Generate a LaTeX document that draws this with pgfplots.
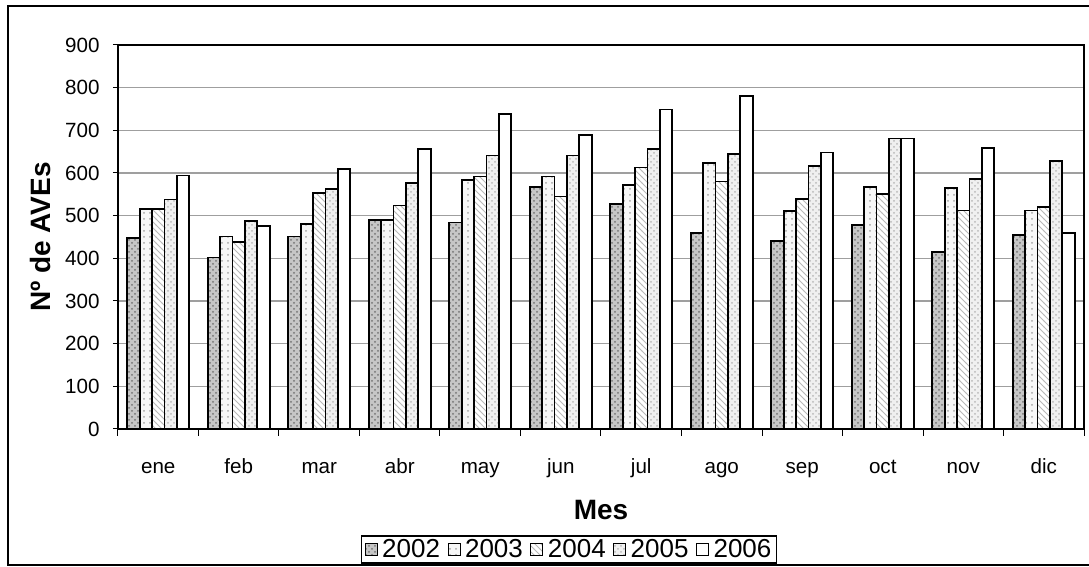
\documentclass[border=0pt]{standalone}
\usepackage{pgfplots}
\pgfplotsset{compat=1.18}
\usepackage{pgfplotstable}
\usetikzlibrary{patterns}
\usepackage{fontspec}
\setmainfont{Liberation Sans}

% Monthly number of AVEs per year
\pgfplotstableread{
x  y2002 y2003 y2004 y2005 y2006
0  447   516   516   538   594
1  402   451   439   488   476
2  451   480   553   563   609
3  490   490   524   576   657
4  484   584   592   641   738
5  567   592   545   641   689
6  528   572   613   657   749
7  459   624   580   645   781
8  441   511   539   617   648
9  479   568   551   681   681
10 415   565   512   585   658
11 455   512   521   629   459
}\datatable

\begin{document}
\begin{tikzpicture}
% chart frame
\draw[line width=0.8pt] (548pt,280.5pt) -- (4pt,280.5pt) -- (4pt,1pt) -- (548pt,1pt);
\begin{axis}[
  at={(59pt,69pt)}, anchor=south west,
  scale only axis, width=483pt, height=192pt,
  xmin=-0.5, xmax=11.5, ymin=0, ymax=900,
  ybar=0pt, bar width=6.2pt,
  ytick={0,100,...,900},
  xtick={0,...,11},
  xticklabels={ene,feb,mar,abr,may,jun,jul,ago,sep,oct,nov,dic},
  minor xtick={-0.5,0.5,...,11.5},
  major x tick style={draw=none},
  tick align=outside, xtick pos=bottom, ytick pos=left,
  major tick length=2.5pt, minor tick length=3.5pt,
  tick style={black, line width=0.5pt},
  ymajorgrids, grid style={gray!75, line width=0.6pt},
  axis line style={line width=0.6pt},
  /pgf/number format/assume math mode=true,
  tick label style={font=\fontsize{10.3}{12}\selectfont},
  yticklabel style={inner sep=0pt, xshift=-6.5pt},
  xticklabel style={anchor=base, inner sep=0pt, yshift=-20pt},
  xlabel={Mes},
  ylabel={Nº de AVEs},
  label style={font=\fontsize{14}{16}\selectfont\bfseries},
  xlabel style={at={([yshift=-45.5pt]axis description cs:0.5,0)}, anchor=base},
  ylabel style={at={([xshift=-39pt]axis description cs:0,0.5)}, anchor=center},
  legend columns=5,
  legend style={at={([yshift=-60.25pt]axis description cs:0.467,0)}, anchor=center,
    draw=black, line width=0.6pt, font=\fontsize{13}{15}\selectfont,
    inner xsep=1.5pt, inner ysep=0pt,
    nodes={inner xsep=1pt, inner ysep=1.5pt},
    /tikz/every even column/.append style={column sep=2.8pt},
    /tikz/every odd column/.append style={column sep=0pt}},
  legend image code/.code={\draw[#1, draw=black, line width=0.5pt] (0pt,-3pt) rectangle (6pt,3pt);
    \path (7pt,0pt);},
  every axis plot/.append style={draw=black, line width=0.9pt},
]
\addplot[fill=gray!45, postaction={pattern=crosshatch dots, pattern color=black!55}] table[x=x,y=y2002] {\datatable};
\addplot[fill=gray!6, postaction={pattern=dots, pattern color=gray!70}] table[x=x,y=y2003] {\datatable};
\addplot[fill=white, postaction={pattern=north west lines, pattern color=gray!55}] table[x=x,y=y2004] {\datatable};
\addplot[fill=gray!12, postaction={pattern=crosshatch dots, pattern color=gray!55}] table[x=x,y=y2005] {\datatable};
\addplot[fill=white] table[x=x,y=y2006] {\datatable};
\legend{2002,2003,2004,2005,2006}
\end{axis}
\pgfresetboundingbox
\useasboundingbox (0,0) rectangle (544.5pt,283.5pt);
\end{tikzpicture}
\end{document}
